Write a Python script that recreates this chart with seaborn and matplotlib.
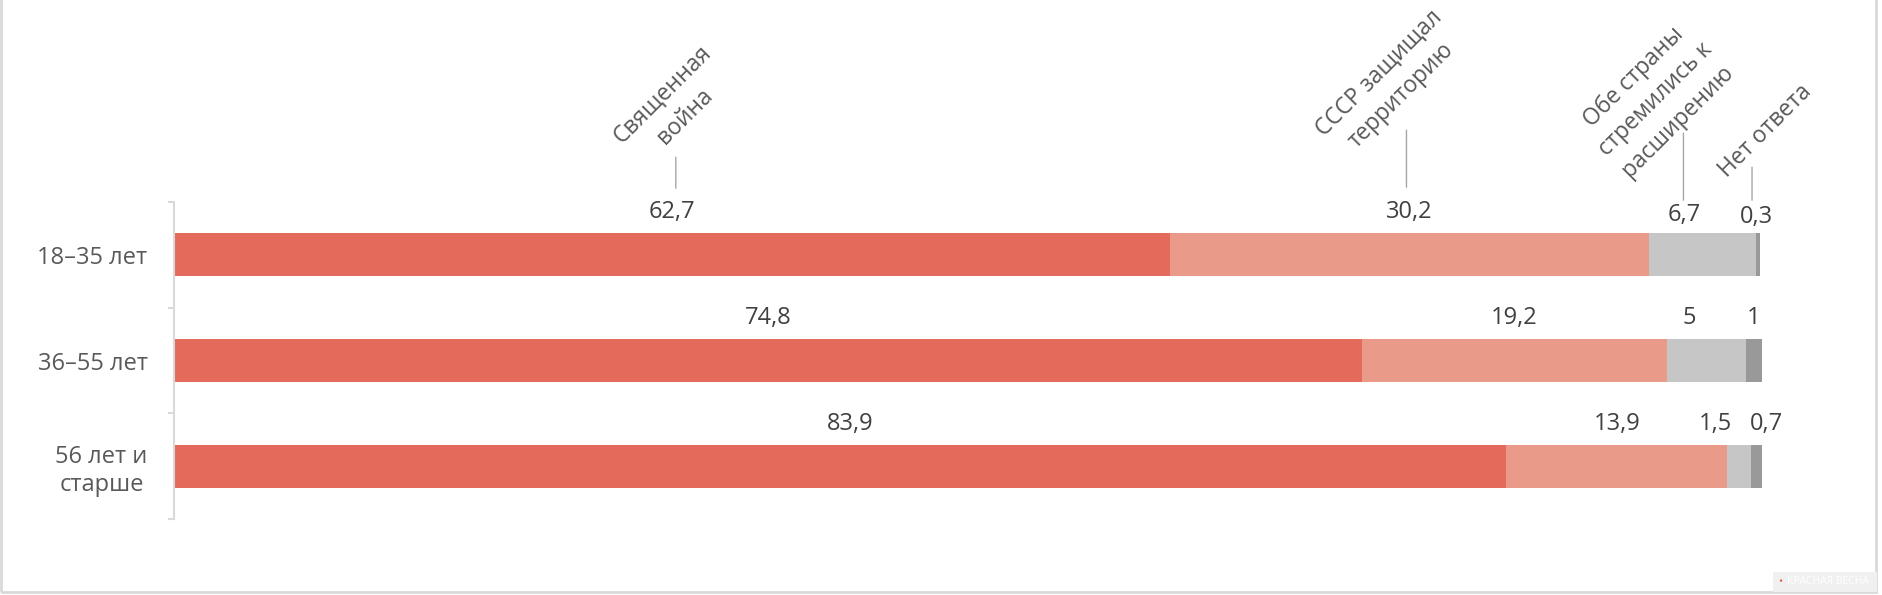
import seaborn as sns
import matplotlib.pyplot as plt
import numpy as np
import pandas as pd
from matplotlib.patches import Rectangle

# Данные
groups = ["18–35 лет", "36–55 лет", "56 лет и\nстарше"]
answers = ["Священная\nвойна", "СССР защищал\nтерриторию",
           "Обе страны\nстремились к\nрасширению", "Нет ответа"]
sacred_war = [62.7, 74.8, 83.9]
ussr_defended = [30.2, 19.2, 13.9]
both_expanded = [6.7, 5.0, 1.5]
no_answer = [0.3, 1.0, 0.7]

series = [sacred_war, ussr_defended, both_expanded, no_answer]
colors = ["#E46A5C", "#EA9A88", "#C5C6C5", "#999999"]

sns.set_theme(style="white")
plt.rcParams['font.family'] = ['Open Sans', 'DejaVu Sans']

df = pd.DataFrame({"group": groups})
vals = np.array(series)            # 4 x 3
cum = np.cumsum(vals, axis=0)
for k, ans in enumerate(answers):
    df[ans] = cum[k]

fig = plt.figure(figsize=(18.83, 5.95), dpi=100)
ax = fig.add_axes([174 / 1883, 1 - 519 / 595, 1588 / 1883, 317 / 595])

bar_h = 0.41
# стек: рисуем накопленные суммы от большей к меньшей
for k in range(len(answers) - 1, -1, -1):
    sns.barplot(data=df, x=answers[k], y="group", orient="h", color=colors[k],
                saturation=1, width=bar_h, errorbar=None, ax=ax, linewidth=0)

ax.set_xlim(0, 100)
ax.set_ylim(2.5, -0.5)
ax.set_xlabel("")
ax.set_ylabel("")
ax.set_xticks([])

# ось Y
for s in ["top", "right", "bottom"]:
    ax.spines[s].set_visible(False)
ax.spines["left"].set_color("#D9D9D9")
ax.spines["left"].set_linewidth(1.5)
ax.set_yticks(range(len(groups)))
ax.set_yticklabels(groups, fontsize=17, color="#595959")
for lab in ax.get_yticklabels():
    lab.set_multialignment("center")
ax.set_yticks([-0.5, 0.5, 1.5, 2.5], minor=True)
ax.tick_params(axis="y", which="major", length=0, pad=19)
ax.tick_params(axis="y", which="minor", length=4, width=1.5, color="#D9D9D9",
               direction="out", left=True)

# подписи значений (смещения в пикселях для мелких сегментов)
label_dx = {(0, 2): -18, (0, 3): -2, (1, 2): -17, (2, 0): 10,
            (2, 2): -24, (2, 3): 10}
label_dy = {(0, 2): -3, (0, 3): -5}
for i in range(len(groups)):
    left = 0
    for k in range(len(answers)):
        v = vals[k, i]
        xc = left + v / 2
        txt = f"{v:g}".replace(".", ",")
        ax.annotate(txt, xy=(xc, i - bar_h / 2), xycoords="data",
                    xytext=(label_dx.get((i, k), 0), 21 + label_dy.get((i, k), 0)),
                    textcoords="offset pixels", ha="center", va="center",
                    fontsize=17, color="#404040", annotation_clip=False)
        left += v

# заголовки категорий с выносками над первой строкой
lead_dx = [4, -3, -19, -6]
lead_span = [(45, 76), (46, 103), (33, 100), (33, 66)]
text_off = [(-2, 52), (-16, 46), (-28, 34), (13, 36)]
left = 0
for k, ans in enumerate(answers):
    v = vals[k, 0]
    xl = left + v / 2 + lead_dx[k] * 100 / 1588
    lo, hi = lead_span[k]
    ax.annotate("", xy=(xl, -bar_h / 2), xycoords="data",
                xytext=(0, hi), textcoords="offset pixels",
                arrowprops=dict(arrowstyle="-", color="#A6A6A6", lw=1,
                                shrinkA=0, shrinkB=lo * 0.72),
                annotation_clip=False)
    tx, ty = text_off[k]
    ax.annotate(ans, xy=(xl, -bar_h / 2), xycoords="data",
                xytext=(tx, hi + ty), textcoords="offset pixels",
                ha="center", va="center", rotation=45, fontsize=16.5,
                color="#595959", multialignment="center",
                linespacing=1.4, annotation_clip=False)
    left += v

# рамка и водяной знак
fig.patches.append(Rectangle((1 / 1883, 3 / 595), 1875 / 1883, 600 / 595,
                             transform=fig.transFigure, fill=False,
                             edgecolor="#D9D9D9", lw=2))
fig.patches.append(Rectangle((1773 / 1883, 3 / 595), 104 / 1883, 20 / 595,
                             transform=fig.transFigure, facecolor="#F0F0F0",
                             edgecolor="none"))
fig.text(1787 / 1883, 13 / 595, "КРАСНАЯ ВЕСНА", ha="left", va="center",
         fontsize=7.5, color="#FFFFFF")
fig.text(1780 / 1883, 13 / 595, "•", ha="center", va="center", fontsize=8,
         color="#E46A5C")

fig.savefig("out.png", dpi=100)
